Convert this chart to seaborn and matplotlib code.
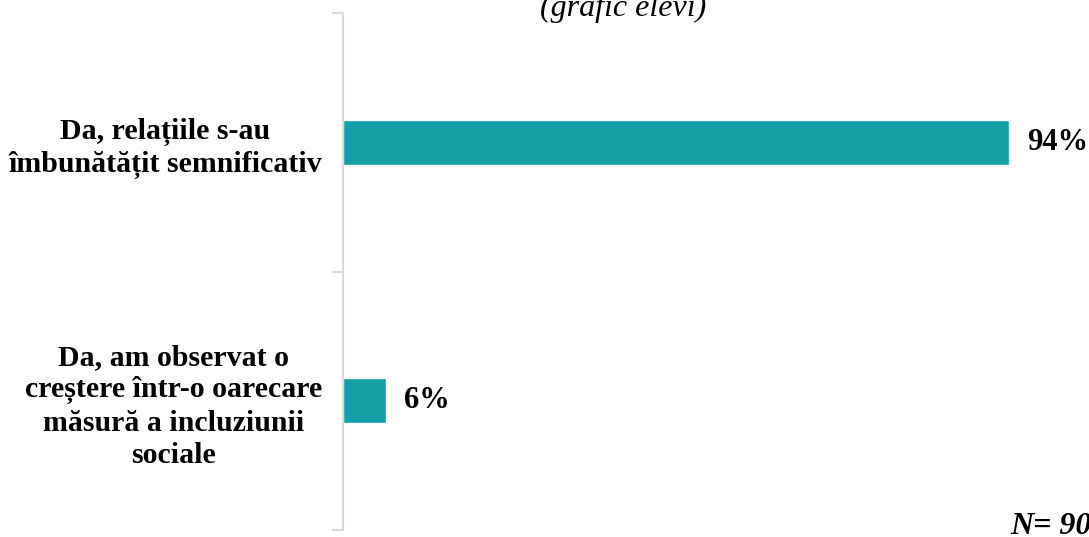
import matplotlib
matplotlib.use("Agg")
import matplotlib.pyplot as plt
import seaborn as sns
import pandas as pd

categories = ["Da, relațiile s-au\nîmbunătățit semnificativ",
              "Da, am observat o\ncreștere într-o oarecare\nmăsură a incluziunii\nsociale"]
values = [94, 6]
value_labels = ["94%", "6%"]

df = pd.DataFrame({"cat": categories, "val": values})

sns.set_theme(style="white")
plt.rcParams['font.family'] = ['Liberation Serif', 'DejaVu Serif']

fig = plt.figure(figsize=(10.89, 5.37), dpi=100)
ax = fig.add_axes([343/1089, 1-530/537, (1051.5-343)/1089, (530-13)/537])

sns.barplot(data=df, y="cat", x="val", orient="h", color="#11A0A5",
            width=0.174, saturation=1, ax=ax)

ax.set_xlim(0, 100)
ax.set_ylim(1.5, -0.5)
ax.set_xlabel("")
ax.set_ylabel("")
ax.set_xticks([])

for s in ["top", "right", "bottom"]:
    ax.spines[s].set_visible(False)
ax.spines["left"].set_color("#d9d9d9")
ax.spines["left"].set_linewidth(1.5)

ax.tick_params(axis="y", which="major", length=0, pad=15)
ax.set_yticks([-0.5, 0.5, 1.5], minor=True)
ax.tick_params(axis="y", which="minor", length=8, width=1.5, color="#d9d9d9", left=True)

for lab in ax.get_yticklabels():
    lab.set_fontsize(21.5)
    lab.set_fontweight("bold")
    lab.set_multialignment("center")
    lab.set_linespacing(1.25)
    lab.set_color("black")

ax.bar_label(ax.containers[0], labels=value_labels, padding=13,
             fontsize=22, fontweight="bold", color="black")

fig.text(623/1089, 1-16/537, "(grafic elevi)", ha="center", va="baseline",
         fontsize=23, fontstyle="italic", color="black")
fig.text(1010/1089, 1-534/537, "N= 90", ha="left", va="baseline",
         fontsize=23, fontstyle="italic", fontweight="bold", color="black")

fig.savefig("out.png", dpi=100)
